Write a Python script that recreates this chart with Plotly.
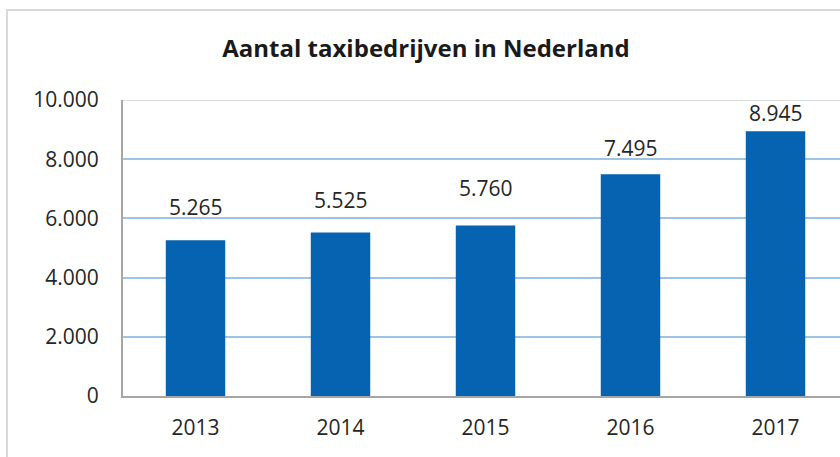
import plotly.graph_objects as go

years = ["2013", "2014", "2015", "2016", "2017"]
counts = [5265, 5525, 5760, 7495, 8945]
tick_vals = [0, 2000, 4000, 6000, 8000, 10000]
tick_text = ["0", "2.000", "4.000", "6.000", "8.000", "10.000"]
value_labels = ["5.265", "5.525", "5.760", "7.495", "8.945"]

# style: per-label vertical offset (px) of the data labels above the bars
label_shift = [17.5, 16.5, 21.5, 10.5, 2.5]

FONT = "Open Sans"
BAR = "#0563B1"

W, H = 840, 457
L, T = 123, 100
B = H - 396
PW = W - L
PH = 396 - T
CAT = 145.0  # px per category

fig = go.Figure()
fig.add_trace(go.Bar(
    x=list(range(len(years))), y=counts, width=0.41,
    marker=dict(color=BAR, line=dict(width=0)),
    hoverinfo="skip",
))

for i, (v, lab, s) in enumerate(zip(counts, value_labels, label_shift)):
    fig.add_annotation(x=i, y=v, text=lab, showarrow=False,
                       yanchor="bottom", yshift=s,
                       font=dict(family=FONT, size=21, color="#262626"))

# top gridline (grey)
fig.add_shape(type="line", xref="paper", yref="y", x0=0, x1=1, y0=10000, y1=10000,
              line=dict(color="#D9D9D9", width=2), layer="below")
# outer chart border
fig.add_shape(type="rect", xref="paper", yref="paper",
              x0=(7 - L) / PW, x1=1.1, y0=-0.4, y1=(396 - 10) / PH,
              line=dict(color="#D9D9D9", width=2), layer="below")

fig.update_layout(
    width=W, height=H,
    margin=dict(l=L, r=0, t=T, b=B),
    paper_bgcolor="white", plot_bgcolor="white",
    showlegend=False,
    hovermode=False,
    title=dict(text="<b>Aantal taxibedrijven in Nederland</b>",
               x=426 / W, xanchor="center", y=1 - 49 / H, yanchor="middle",
               font=dict(family=FONT, size=24, color="#1a1a1a")),
    xaxis=dict(range=[-0.5, -0.5 + PW / CAT], tickmode="array",
               tickvals=list(range(len(years))), ticktext=years,
               showgrid=False, zeroline=False, showline=True,
               linecolor="#A6A6A6", linewidth=2, ticks="",
               tickfont=dict(family=FONT, size=21, color="#262626"),
               ticklabelstandoff=12),
    yaxis=dict(range=[0, 10000], tickmode="array", tickvals=tick_vals,
               ticktext=tick_text, showgrid=True, gridcolor="#9DC3E6", gridwidth=1.5,
               zeroline=False, showline=True, linecolor="#A6A6A6", linewidth=2,
               ticks="", tickfont=dict(family=FONT, size=21, color="#262626"),
               ticklabelstandoff=18),
)

fig.write_html(
    "out.html",
    config={"displayModeBar": False},
    post_script="document.body.style.margin='0';document.body.style.overflow='hidden';",
)
